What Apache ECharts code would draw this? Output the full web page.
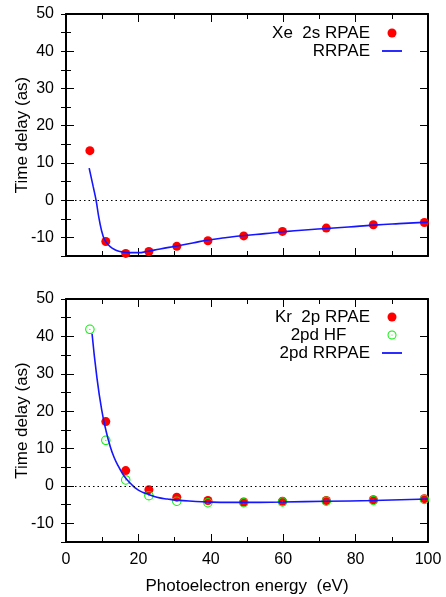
<!DOCTYPE html>
<html>
<head>
<meta charset="utf-8">
<script src="https://cdn.jsdelivr.net/npm/echarts@6/dist/echarts.min.js"></script>
<style>
html,body{margin:0;padding:0;background:#fff;}
#chart{width:446px;height:597px;}
</style>
</head>
<body>
<div id="chart"></div>
<script>
// ---- data ----
var energy = [6.6, 11.0, 16.5, 22.9, 30.6, 39.2, 49.1, 59.8, 71.9, 84.9, 99.0];
var xeRPAE = [13.3, -11.1, -14.3, -13.8, -12.4, -10.9, -9.6, -8.4, -7.5, -6.6, -6.0];
var xeCurveE = [6.4, 7.5, 8.3, 9.2, 10.3, 11.2, 12.2, 13.5, 14.9, 16.3, 17.7, 20.0, 22.3, 26.0, 30.6, 35.0, 39.3, 44.0, 49.4, 55.0, 60.0, 66.0, 72.0, 78.0, 85.0, 92.0, 100.0];
var xeCurve = [8.6, 3.7, 0.0, -5.3, -9.8, -11.4, -12.5, -13.3, -13.8, -14.0, -14.1, -14.1, -13.8, -13.1, -12.3, -11.5, -10.7, -10.1, -9.5, -9.0, -8.5, -8.0, -7.6, -7.2, -6.7, -6.3, -5.9];
var krRPAE = [null, 17.2, 4.1, -1.0, -3.0, -3.9, -4.3, -4.1, -3.9, -3.7, -3.4];
var krHF = [41.9, 12.2, 1.6, -2.6, -4.1, -4.5, -4.5, -4.3, -4.1, -3.9, -3.6];
var krCurveE = [7.2, 8.5, 9.85, 11.0, 12.2, 13.3, 14.5, 15.6, 16.8, 18.0, 19.1, 20.5, 22.3, 24.0, 25.9, 28.0, 30.6, 35.0, 39.3, 45.0, 50.0, 60.0, 72.0, 85.0, 100.0];
var krCurve = [40.7, 29.3, 20.4, 15.0, 10.6, 7.6, 5.2, 3.3, 1.7, 0.5, -0.5, -1.4, -2.1, -2.7, -3.2, -3.5, -3.8, -4.1, -4.3, -4.4, -4.4, -4.3, -4.1, -3.9, -3.5];
var xRange = [0, 100];
var yRange = [-15, 50];
var yMajorTicks = [-10, 0, 10, 20, 30, 40, 50];
var names = { xeDots: 'Xe  2s RPAE', xeLine: 'RRPAE', krDots: 'Kr  2p RPAE', krHF: '2pd HF     ', krLine: '2pd RRPAE' };
var xTitle = 'Photoelectron energy  (eV)';
var yTitle = 'Time delay (as)';

function pairs(xs, ys) { var out = []; for (var i = 0; i < xs.length; i++) { if (ys[i] !== null) out.push([xs[i], ys[i]]); } return out; }

var FONT = "'Liberation Sans', Arial, sans-serif";
var ringPath = 'path://M0,-4.5A4.5,4.5 0 1,1 0,4.5A4.5,4.5 0 1,1 0,-4.5ZM0,-3.5A3.5,3.5 0 1,0 0,3.5A3.5,3.5 0 1,0 0,-3.5ZM0,-0.6A0.6,0.6 0 1,1 0,0.6A0.6,0.6 0 1,1 0,-0.6Z';
var lineIcon = 'path://M0,0H20V1.8H0Z';

function xAxisDef(gi, pos, labels) {
  return {
    type: 'value', gridIndex: gi, position: pos, min: xRange[0], max: xRange[1], interval: 20,
    axisLine: { show: true, onZero: false, lineStyle: { color: '#000', width: 2 } },
    axisTick: { show: true, inside: true, length: 8, lineStyle: { color: '#000', width: 1 } },
    minorTick: { show: true, splitNumber: 2, length: 5, lineStyle: { color: '#000', width: 1 } },
    splitLine: { show: false },
    axisLabel: { show: labels, color: '#000', fontSize: 16, fontFamily: FONT, margin: 10 },
    name: labels ? xTitle : '', nameLocation: 'middle', nameGap: 36, nameMoveOverlap: false,
    nameTextStyle: { color: '#000', fontSize: 17, fontFamily: FONT }
  };
}
function yAxisDef(gi, pos, labels) {
  return {
    type: 'value', gridIndex: gi, position: pos, min: yRange[0], max: yRange[1], interval: 5,
    axisLine: { show: true, onZero: false, lineStyle: { color: '#000', width: 2 } },
    axisTick: { show: true, inside: true, length: 8, customValues: yMajorTicks, lineStyle: { color: '#000', width: 1 } },
    splitLine: { show: false },
    axisLabel: { show: labels, customValues: yMajorTicks, color: '#000', fontSize: 16, fontFamily: FONT, margin: 12 },
    name: labels ? yTitle : '', nameLocation: 'middle', nameGap: 35, nameMoveOverlap: false,
    nameTextStyle: { color: '#000', fontSize: 17, fontFamily: FONT }
  };
}
function yMinorDef(gi, pos) {
  return {
    type: 'value', gridIndex: gi, position: pos, min: yRange[0], max: yRange[1], interval: 5,
    axisLine: { show: false },
    axisTick: { show: true, inside: true, length: 5, lineStyle: { color: '#000', width: 1 } },
    splitLine: { show: false }, axisLabel: { show: false }
  };
}

var zeroMark = {
  silent: true, symbol: 'none', label: { show: false },
  lineStyle: { color: '#000', type: [1.5, 3], width: 1.2 },
  data: [{ yAxis: 0 }]
};

var legendText = { color: '#000', fontSize: 17, fontFamily: FONT, lineHeight: 18, padding: [0, 7, 0, 0] };

var option = {
  animation: false,
  backgroundColor: '#fff',
  grid: [
    { left: 66, top: 14, width: 362, height: 242 },
    { left: 66, top: 299, width: 362, height: 243 }
  ],
  xAxis: [xAxisDef(0, 'bottom', false), xAxisDef(0, 'top', false), xAxisDef(1, 'bottom', true), xAxisDef(1, 'top', false)],
  yAxis: [yAxisDef(0, 'left', true), yAxisDef(0, 'right', false), yAxisDef(1, 'left', true), yAxisDef(1, 'right', false),
          yMinorDef(0, 'left'), yMinorDef(0, 'right'), yMinorDef(1, 'left'), yMinorDef(1, 'right')],
  legend: [
    { data: [names.xeDots, { name: names.xeLine, icon: lineIcon }], orient: 'vertical', align: 'right', right: 39, top: 19,
      itemWidth: 20, itemHeight: 9, itemGap: 0, textStyle: legendText, selectedMode: false },
    { data: [names.krDots, names.krHF, { name: names.krLine, icon: lineIcon }], orient: 'vertical', align: 'right', right: 39, top: 303,
      itemWidth: 20, itemHeight: 9, itemGap: 0, textStyle: legendText, selectedMode: false }
  ],
  series: [
    { name: names.xeDots, type: 'scatter', xAxisIndex: 0, yAxisIndex: 0, symbol: 'circle', symbolSize: 9,
      itemStyle: { color: '#ff0000', opacity: 1 }, data: pairs(energy, xeRPAE), markLine: zeroMark, z: 2 },
    { name: names.xeLine, type: 'line', xAxisIndex: 0, yAxisIndex: 0, symbol: 'none', smooth: true,
      lineStyle: { color: '#1515ff', width: 1.6 }, itemStyle: { color: '#1515ff' }, data: pairs(xeCurveE, xeCurve), z: 3 },
    { name: names.krDots, type: 'scatter', xAxisIndex: 2, yAxisIndex: 2, symbol: 'circle', symbolSize: 9,
      itemStyle: { color: '#ff0000', opacity: 1 }, data: pairs(energy, krRPAE), markLine: zeroMark, z: 2 },
    { name: names.krHF, type: 'scatter', xAxisIndex: 2, yAxisIndex: 2, symbol: ringPath, symbolSize: 9.5,
      itemStyle: { color: '#00f000', opacity: 1 }, data: pairs(energy, krHF), z: 2 },
    { name: names.krLine, type: 'line', xAxisIndex: 2, yAxisIndex: 2, symbol: 'none', smooth: true,
      lineStyle: { color: '#1515ff', width: 1.6 }, itemStyle: { color: '#1515ff' }, data: pairs(krCurveE, krCurve), z: 3 }
  ]
};
var chart = echarts.init(document.getElementById('chart'), null, { renderer: 'canvas' });
chart.setOption(option);
</script>
</body>
</html>
